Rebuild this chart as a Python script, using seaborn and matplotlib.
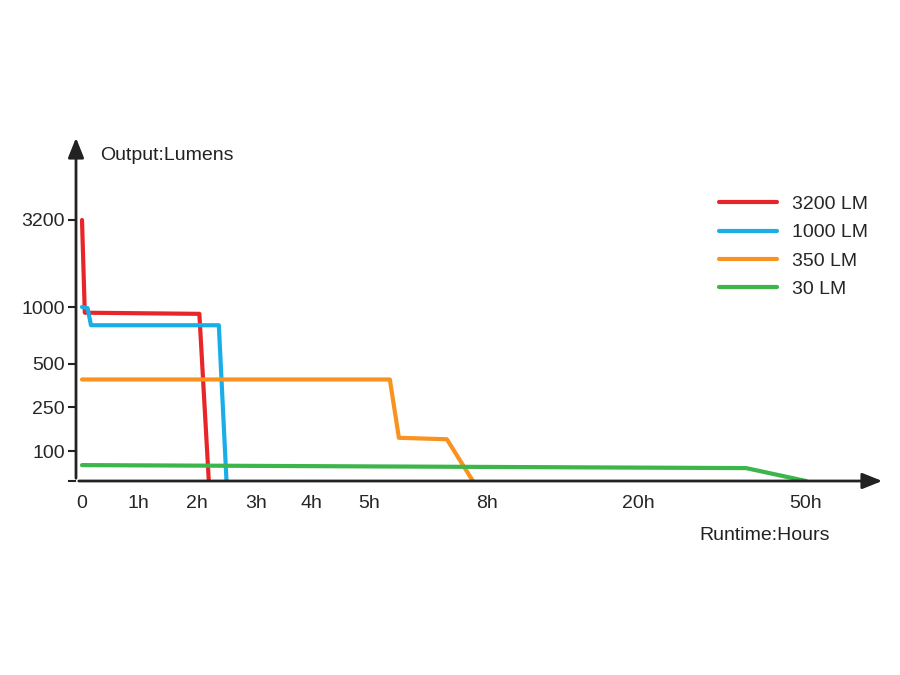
import numpy as np
import matplotlib
matplotlib.use("Agg")
import matplotlib.pyplot as plt
import seaborn as sns
import pandas as pd

sns.set_theme(style="white")
plt.rcParams['font.family'] = ['Liberation Sans', 'DejaVu Sans']

# data (hours, lumens)
red_h = [0, 0.05, 2.04, 2.2]; red_l = [3200, 950, 940, 0]
blue_h = [0, 0.1, 0.16, 2.37, 2.5]; blue_l = [1000, 990, 840, 840, 0]
orange_h = [0, 5.53, 5.76, 6.98, 7.64]; orange_l = [410, 410, 145, 140, 0]
green_h = [0, 39.3, 50]; green_l = [53, 43, 0]
series = ["3200 LM", "1000 LM", "350 LM", "30 LM"]
colors = ["#e8262a", "#1aaee8", "#f7931e", "#3cb54a"]

x_ticks = [0, 1, 2, 3, 4, 5, 8, 20, 50]
x_labels = ["0", "1h", "2h", "3h", "4h", "5h", "8h", "20h", "50h"]
y_ticks = [0, 100, 250, 500, 1000, 3200]
y_labels = ["", "100", "250", "500", "1000", "3200"]

# layout: non-linear axis positions (pixels from axis origin)
x_pos = [6, 62, 121, 180, 235, 293, 411, 562, 730]
y_pos = [0, 30, 74, 117, 174, 261]

def fx(h): return np.interp(h, x_ticks, x_pos)
def fy(l): return np.interp(l, y_ticks, y_pos)

rows = []
for name, hs, ls in zip(series, [red_h, blue_h, orange_h, green_h], [red_l, blue_l, orange_l, green_l]):
    for i, (h, l) in enumerate(zip(hs, ls)):
        rows.append(dict(series=name, order=i, x=fx(h), y=fy(l)))
df = pd.DataFrame(rows)

fig = plt.figure(figsize=(9, 6.75), dpi=100)
ax = fig.add_axes([76/900, (675-481)/675, (885-76)/900, (481-135)/675])
sns.lineplot(data=df, x="x", y="y", hue="series", palette=colors, hue_order=series,
             sort=False, units="series", estimator=None, lw=3, ax=ax, legend=True)
ax.set_xlim(0, 809); ax.set_ylim(0, 346)
for s in ax.spines.values(): s.set_visible(False)
ax.annotate("", xy=(1, 0), xytext=(0, 0), xycoords="axes fraction",
            arrowprops=dict(arrowstyle="-|>,head_length=1.0,head_width=0.4", color="#222", lw=2))
ax.annotate("", xy=(0, 1), xytext=(0, 0), xycoords="axes fraction",
            arrowprops=dict(arrowstyle="-|>,head_length=1.0,head_width=0.4", color="#222", lw=2))
ax.set_xticks(fx(x_ticks)); ax.set_xticklabels(x_labels, fontsize=14)
ax.set_yticks(fy(y_ticks)); ax.set_yticklabels(y_labels, fontsize=14)
ax.tick_params(axis="y", length=6, width=1.5, color="#222", left=True, pad=2)
ax.tick_params(axis="x", length=0, pad=10)
ax.set_xlabel(""); ax.set_ylabel("")
fig.text(100/900, 1-155/675, "Output:Lumens", fontsize=14, va="center", color="#222")
fig.text(830/900, 1-536/675, "Runtime:Hours", fontsize=14, va="center", ha="right", color="#222")
leg = ax.legend(loc="upper left", bbox_to_anchor=(625/809, 303/346), frameon=False,
                fontsize=14, handlelength=3, labelspacing=0.55)
for l in leg.get_lines(): l.set_linewidth(3)
fig.savefig("out.png", dpi=100)
